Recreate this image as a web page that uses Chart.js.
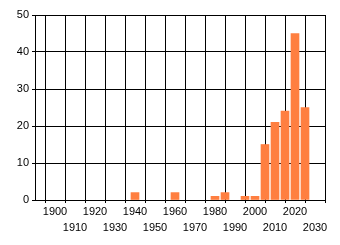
<!DOCTYPE html>
<html>
<head>
<meta charset="utf-8">
<script src="https://cdn.jsdelivr.net/npm/chart.js@4/dist/chart.umd.min.js"></script>
<style>
html,body{margin:0;padding:0;background:#fff;}
#wrap{width:340px;height:245px;position:relative;}
</style>
</head>
<body>
<div id="wrap"><canvas id="c" width="340" height="245"></canvas></div>
<script>
const years = [1940, 1960, 1980, 1985, 1995, 2000, 2005, 2010, 2015, 2020, 2025];
const counts = [2, 2, 1, 2, 1, 1, 15, 21, 24, 45, 25];
const yTicks = [0, 10, 20, 30, 40, 50];
const xTickLabels = [1900, 1910, 1920, 1930, 1940, 1950, 1960, 1970, 1980, 1990, 2000, 2010, 2020, 2030];

const points = years.map((y, i) => ({x: y, y: counts[i]}));
const font = {family: "'Liberation Sans', Arial, sans-serif", size: 11};

new Chart(document.getElementById('c'), {
  type: 'bar',
  data: {
    datasets: [{
      data: points,
      backgroundColor: 'rgb(255,127,64)',
      borderWidth: 0,
      barThickness: 8
    }]
  },
  options: {
    responsive: false,
    animation: false,
    events: [],
    layout: {padding: {top: 15, right: 15, left: 0, bottom: 0}},
    plugins: {legend: {display: false}, tooltip: {enabled: false}},
    scales: {
      x: {
        type: 'linear',
        min: 1890,
        max: 2035,
        offset: false,
        afterBuildTicks: s => { s.ticks = [1890].concat(xTickLabels).map(v => ({value: v})); },
        afterFit: s => { s.height = 45; },
        ticks: {
          autoSkip: false,
          maxRotation: 0,
          minRotation: 0,
          color: '#000',
          font: Object.assign({lineHeight: 16 / 11}, font),
          padding: 1,
          callback: v => {
            const idx = xTickLabels.indexOf(v);
            if (idx < 0) return '';
            return idx % 2 === 0 ? [String(v), ''] : ['', String(v)];
          }
        },
        grid: {color: '#000', lineWidth: 1, tickLength: 3, drawOnChartArea: true},
        border: {color: '#000', width: 1}
      },
      y: {
        min: 0,
        max: 50,
        afterBuildTicks: s => { s.ticks = yTicks.map(v => ({value: v})); },
        afterFit: s => { s.width = 35; },
        ticks: {color: '#000', font: font, padding: 3},
        grid: {color: '#000', lineWidth: 1, tickLength: 3},
        border: {color: '#000', width: 1}
      }
    }
  }
});
</script>
</body>
</html>
